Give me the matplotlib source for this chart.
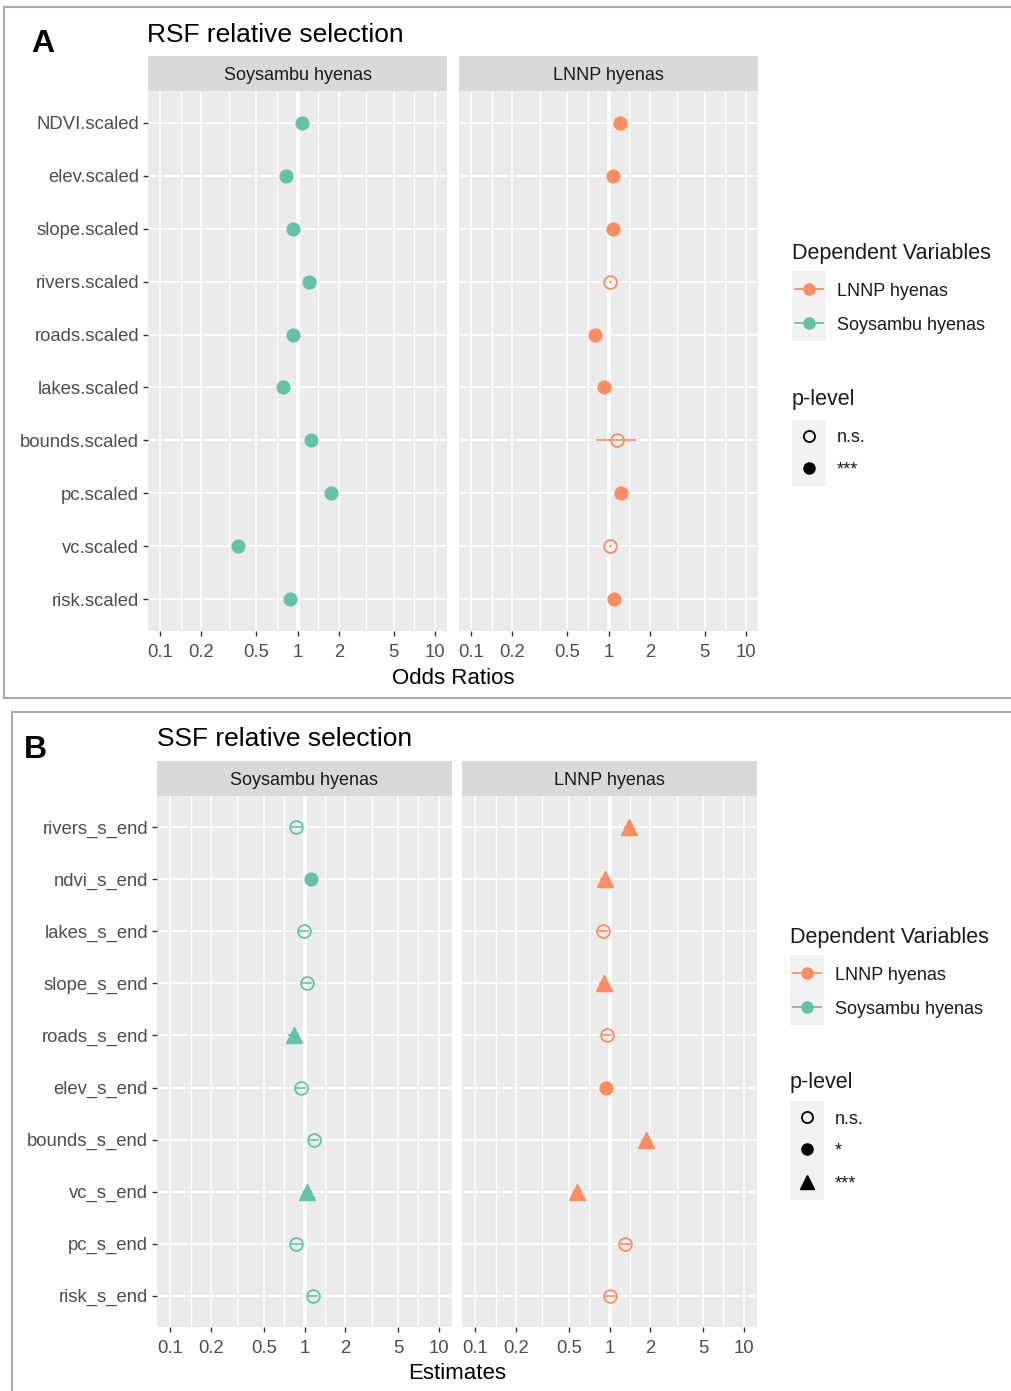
import matplotlib.pyplot as plt
from matplotlib.lines import Line2D
from matplotlib.patches import Rectangle
from matplotlib.ticker import NullFormatter

plt.rcParams['font.family'] = ['Liberation Sans', 'DejaVu Sans']

# ---- data: panel A (RSF, odds ratios) ----
rsf_terms = ["NDVI.scaled", "elev.scaled", "slope.scaled", "rivers.scaled", "roads.scaled",
             "lakes.scaled", "bounds.scaled", "pc.scaled", "vc.scaled", "risk.scaled"]
rsf_soy_est = [1.08, 0.82, 0.93, 1.21, 0.93, 0.78, 1.25, 1.75, 0.37, 0.88]
rsf_soy_lo = [1.06, 0.80, 0.91, 1.19, 0.91, 0.76, 1.22, 1.72, 0.36, 0.86]
rsf_soy_hi = [1.10, 0.84, 0.95, 1.23, 0.95, 0.80, 1.28, 1.78, 0.38, 0.90]
rsf_soy_p = ["***", "***", "***", "***", "***", "***", "***", "***", "***", "***"]
rsf_lnnp_est = [1.22, 1.07, 1.07, 1.03, 0.80, 0.92, 1.16, 1.24, 1.03, 1.09]
rsf_lnnp_lo = [1.19, 1.05, 1.05, 1.02, 0.78, 0.90, 0.83, 1.21, 1.02, 1.07]
rsf_lnnp_hi = [1.25, 1.09, 1.09, 1.04, 0.82, 0.94, 1.57, 1.27, 1.04, 1.11]
rsf_lnnp_p = ["***", "***", "***", "n.s.", "***", "***", "n.s.", "***", "n.s.", "***"]
rsf_plevels = ["n.s.", "***"]

# ---- data: panel B (SSF, estimates) ----
ssf_terms = ["rivers_s_end", "ndvi_s_end", "lakes_s_end", "slope_s_end", "roads_s_end",
             "elev_s_end", "bounds_s_end", "vc_s_end", "pc_s_end", "risk_s_end"]
ssf_soy_est = [0.87, 1.11, 0.99, 1.04, 0.83, 0.94, 1.17, 1.05, 0.87, 1.15]
ssf_soy_lo = [0.81, 1.04, 0.92, 0.97, 0.77, 0.87, 1.09, 0.98, 0.81, 1.07]
ssf_soy_hi = [0.94, 1.18, 1.07, 1.12, 0.89, 1.01, 1.26, 1.12, 0.94, 1.23]
ssf_soy_p = ["n.s.", "*", "n.s.", "n.s.", "***", "n.s.", "n.s.", "***", "n.s.", "n.s."]
ssf_lnnp_est = [1.40, 0.92, 0.89, 0.91, 0.96, 0.94, 1.88, 0.57, 1.31, 1.01]
ssf_lnnp_lo = [1.31, 0.86, 0.83, 0.85, 0.89, 0.88, 1.76, 0.53, 1.22, 0.94]
ssf_lnnp_hi = [1.50, 0.99, 0.96, 0.98, 1.03, 1.01, 2.01, 0.61, 1.41, 1.09]
ssf_lnnp_p = ["***", "***", "n.s.", "***", "n.s.", "*", "***", "***", "n.s.", "n.s."]
ssf_plevels = ["n.s.", "*", "***"]

groups = ["LNNP hyenas", "Soysambu hyenas"]
x_breaks = [0.1, 0.2, 0.5, 1, 2, 5, 10]
x_break_labels = ["0.1", "0.2", "0.5", "1", "2", "5", "10"]
x_minor = [0.1414, 0.3162, 0.7071, 1.414, 3.162, 7.071]

# ---- styling ----
ORANGE = "#FC8D62"
GREEN = "#66C2A5"
PANEL_BG = "#EBEBEB"
STRIP_BG = "#D9D9D9"
W, H = 1011, 1391

fig = plt.figure(figsize=(W / 100, H / 100), dpi=100)


def box(x0, y0, x1, y1):
    return [x0 / W, 1 - y1 / H, (x1 - x0) / W, (y1 - y0) / H]


def draw_marker(ax, x, y, p, color, levels, ms):
    shape = {"n.s.": "o_open", "*": "o", "***": "o"}
    if len(levels) == 3:
        shape = {"n.s.": "o_open", "*": "o", "***": "^"}
    s = shape[p]
    if s == "o_open":
        ax.plot(x, y, marker="o", ms=ms, mfc="none", mec=color, mew=1.3, zorder=4)
    elif s == "o":
        ax.plot(x, y, marker="o", ms=ms, mfc=color, mec=color, zorder=4)
    else:
        ax.plot(x, y, marker="^", ms=ms + 2.5, mfc=color, mec=color, zorder=4)


def facet(rect, strip, name, terms, est, lo, hi, pv, color, levels, xlim, show_y):
    ax = fig.add_axes(box(*rect))
    ax.set_facecolor(PANEL_BG)
    ax.set_xscale("log")
    ax.set_xlim(*xlim)
    n = len(terms)
    ax.set_ylim(n - 0.4, -0.6)
    ax.set_xticks(x_breaks)
    ax.set_xticklabels(x_break_labels)
    ax.set_xticks(x_minor, minor=True)
    ax.xaxis.set_minor_formatter(NullFormatter())
    ax.set_yticks(range(n))
    ax.set_yticklabels(terms if show_y else [])
    ax.set_axisbelow(True)
    ax.grid(which="major", color="white", lw=1.2)
    ax.grid(which="minor", axis="x", color="white", lw=0.9)
    ax.tick_params(which="minor", length=0)
    ax.tick_params(which="major", length=3.5, width=1, color="#333333",
                   labelcolor="#4D4D4D", labelsize=13.3, pad=3)
    ax.tick_params(axis="x", pad=6)
    if not show_y:
        ax.tick_params(axis="y", length=0)
    for s in ax.spines.values():
        s.set_visible(False)
    ax.axvline(1, color="white", lw=2.6, zorder=1.5)
    for i in range(n):
        ax.plot([lo[i], hi[i]], [i, i], color=color, lw=1.2, zorder=3)
        draw_marker(ax, est[i], i, pv[i], color, levels, 9.2)

    sax = fig.add_axes(box(*strip))
    sax.set_facecolor(STRIP_BG)
    sax.set_xticks([])
    sax.set_yticks([])
    for s in sax.spines.values():
        s.set_visible(False)
    sax.text(0.5, 0.5, name, ha="center", va="center_baseline", fontsize=13, color="#1A1A1A",
             transform=sax.transAxes)
    return ax


# Panel A facets
xlim_a = (10 ** -1.087, 10 ** 1.087)
facet((148, 91, 447, 631), (148, 56, 447, 91), "Soysambu hyenas", rsf_terms,
      rsf_soy_est, rsf_soy_lo, rsf_soy_hi, rsf_soy_p, GREEN, rsf_plevels, xlim_a, True)
facet((459, 91, 758, 631), (459, 56, 758, 91), "LNNP hyenas", rsf_terms,
      rsf_lnnp_est, rsf_lnnp_lo, rsf_lnnp_hi, rsf_lnnp_p, ORANGE, rsf_plevels, xlim_a, False)

# Panel B facets
xlim_b = (10 ** -1.1, 10 ** 1.1)
facet((157, 796, 452, 1327), (157, 761, 452, 796), "Soysambu hyenas", ssf_terms,
      ssf_soy_est, ssf_soy_lo, ssf_soy_hi, ssf_soy_p, GREEN, ssf_plevels, xlim_b, True)
facet((462, 796, 757, 1327), (462, 761, 757, 796), "LNNP hyenas", ssf_terms,
      ssf_lnnp_est, ssf_lnnp_lo, ssf_lnnp_hi, ssf_lnnp_p, ORANGE, ssf_plevels, xlim_b, False)

# ---- overlay for titles, borders, legends (pixel coordinates) ----
ov = fig.add_axes([0, 0, 1, 1])
ov.set_xlim(0, W)
ov.set_ylim(H, 0)
ov.axis("off")

border = "#A8A8A8"
ov.plot([4, 1011], [7, 7], color=border, lw=1.5)
ov.plot([4, 4], [7, 698], color=border, lw=1.5)
ov.plot([4, 1011], [698, 698], color=border, lw=1.5)
ov.plot([12, 1011], [712, 712], color=border, lw=1.5)
ov.plot([12, 12], [712, 1391], color=border, lw=1.5)

ov.text(31, 41, "A", fontsize=23, fontweight="bold", ha="left", va="center_baseline")
ov.text(24, 746, "B", fontsize=23, fontweight="bold", ha="left", va="center_baseline")
ov.text(147, 33, "RSF relative selection", fontsize=19, ha="left", va="center_baseline")
ov.text(157, 737, "SSF relative selection", fontsize=19, ha="left", va="center_baseline")
ov.text(453, 676, "Odds Ratios", fontsize=16, ha="center", va="center_baseline")
ov.text(457, 1371, "Estimates", fontsize=16, ha="center", va="center_baseline")


def legend(x, y_title, y_groups, y_ptitle, y_p, plevels):
    ov.text(x, y_title, "Dependent Variables", fontsize=15.5, ha="left",
            va="center_baseline", color="#1A1A1A")
    ov.add_patch(Rectangle((x, y_groups[0] - 18), 34, y_groups[-1] - y_groups[0] + 36,
                           facecolor="#F2F2F2", edgecolor="none"))
    for g, yy in zip(groups, y_groups):
        c = ORANGE if g == "LNNP hyenas" else GREEN
        ov.add_line(Line2D([x + 3, x + 31], [yy, yy], color=c, lw=1.3))
        ov.plot(x + 17, yy, marker="o", ms=8, color=c)
        ov.text(x + 45, yy, g, fontsize=13, ha="left", va="center_baseline", color="#1A1A1A")
    ov.text(x, y_ptitle, "p-level", fontsize=15.5, ha="left", va="center_baseline",
            color="#1A1A1A")
    ov.add_patch(Rectangle((x, y_p[0] - 16), 34, y_p[-1] - y_p[0] + 34,
                           facecolor="#F2F2F2", edgecolor="none"))
    for p, yy in zip(plevels, y_p):
        draw_marker(ov, x + 17, yy, p, "black", plevels, 8)
        ov.text(x + 45, yy, p, fontsize=13, ha="left", va="center_baseline", color="#1A1A1A")


legend(792, 251, [289, 323], 397, [436, 468], rsf_plevels)
legend(790, 935, [973, 1007], 1080, [1117, 1149, 1182], ssf_plevels)

fig.savefig("out.png", dpi=100, facecolor="white")
